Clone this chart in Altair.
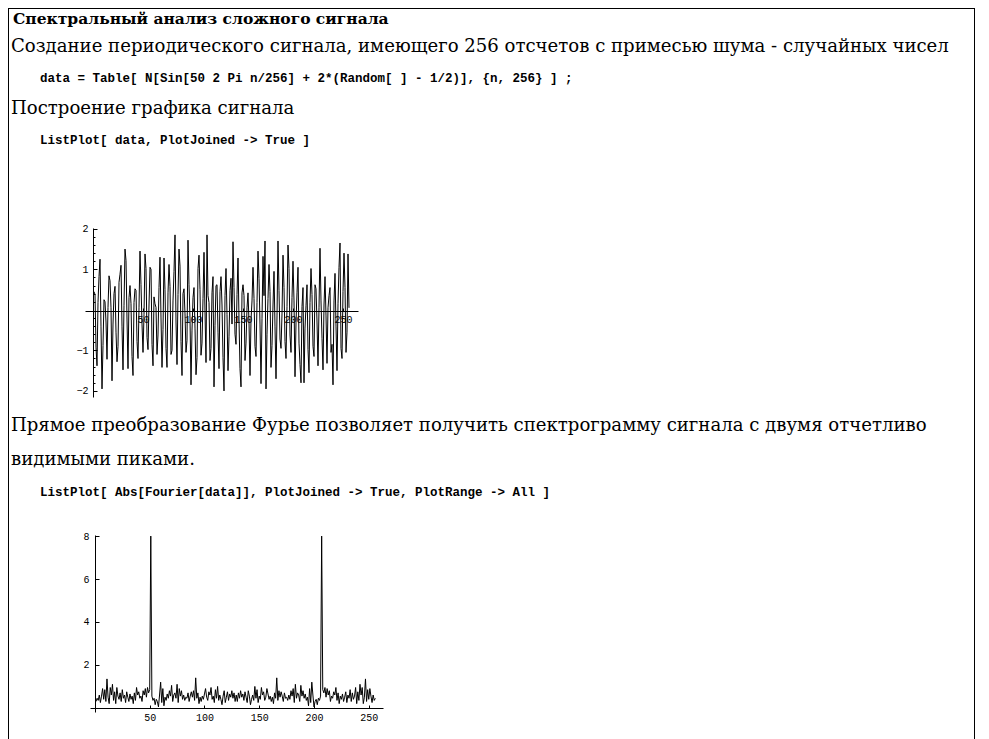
import altair as alt
import pandas as pd

# ---------------- data ----------------
signal = [
    0.45, 0.38, -0.92, -1.38, 0.18, 0.82, 1.25, -0.42, -1.95, -0.88, 0.25, 0.2, -0.3, -1.22, 0.06, 0.84,
    0.72, 0.05, -1.75, -0.35, 0.4, 0.58, -0.55, -1.28, -0.9, 0.68, 0.88, 1.1, -0.42, -1.48, 0.1, 1.5,
    1.22, -0.25, -1.45, 0.3, 0.6, 0.15, -1.15, -1.62, 0.18, 0.52, 0.48, -0.78, -1.2, 0.05, 1.45, 0.62,
    -0.35, -1.05, -0.12, 1.38, 1.02, -0.68, -0.98, 0.12, 1.05, 1.0, -0.85, -1.38, 0.32, 0.15, 0.06, -1.1,
    -0.62, 0.55, 1.3, -0.2, -1.42, -0.48, 1.28, 0.5, -0.95, -1.42, 0.42, 1.12, 0.58, -1.1, -1.0, 0.22,
    0.95, 1.85, -0.3, -1.35, 0.38, 1.5, 1.08, -0.78, -1.62, 0.4, 0.52, -0.1, -1.05, -0.75, 1.72, 0.62,
    -0.22, -1.85, -0.5, 0.3, 0.55, -0.45, -1.6, -1.18, 1.02, 1.35, 0.5, -1.12, -0.82, 0.28, 1.42, -0.05,
    -1.3, 1.85, 0.35, 0.18, -1.25, -0.95, 0.42, 0.82, -1.9, -0.38, 0.6, 0.62, -0.55, -1.45, 0.45, 0.82,
    0.12, -1.18, -2.0, 0.35, 1.02, -0.12, -1.5, -0.65, 0.48, 0.78, -0.35, 1.68, 0.55, -0.6, -0.85, 0.38,
    1.28, -0.25, -1.45, -1.9, 0.42, 0.62, 0.35, -1.25, -0.82, 0.05, 0.42, -0.3, -1.62, -0.25, 0.22, 1.05,
    0.28, -0.9, -1.15, 0.18, 1.45, 0.78, -0.35, -1.82, -0.22, 1.32, 0.35, 1.7, -1.95, -0.6, 0.28, 1.12,
    0.45, -1.42, -0.88, 0.12, 0.95, -0.42, -1.7, -0.15, 1.7, 0.48, -0.72, -0.95, -0.1, 1.35, 0.55, -0.78,
    -1.2, 0.08, 1.6, 1.02, -0.62, -1.05, 0.3, 1.2, 0.22, -1.65, -0.32, 0.42, 1.05, -0.82, -1.35, -1.8,
    0.08, 0.55, -1.8, -0.45, 0.1, 0.62, -0.98, -1.55, 0.18, 1.02, 0.38, -0.9, -1.15, 0.62, 0.52, -0.3,
    -1.38, 0.05, 1.52, 0.22, -0.7, -1.48, 0.12, 0.82, -0.15, -1.32, 0.05, 0.35, 0.55, -1.05, -0.85, -1.85,
    0.22, 0.9, -0.4, -1.5, 0.15, 1.05, 1.65, -0.95, -1.2, 0.45, 1.4, 0.55, -1.05, -0.55, 1.38, 0.05,
]

spectrum = [
    0.3,
    0.45, 0.35, 0.6, 0.25, 0.55, 0.9, 0.4, 0.85, 0.3, 1.35, 0.5, 0.2, 0.95, 0.6, 1.1,
    0.35, 0.75, 0.2, 0.95, 0.55, 0.4, 0.7, 0.3, 0.85, 0.45, 0.6, 0.25, 0.75, 0.5, 0.3, 0.65,
    0.4, 0.55, 0.2, 0.7, 0.35, 0.95, 0.6, 0.75, 0.45, 0.55, 0.3, 0.8, 0.6, 0.9, 0.5, 0.95, 0.7, 0.85,
    8.0,
    0.55, 0.35, 0.45, 0.15, 0.4, 0.3, 0.05, 0.6, 1.2, 0.25, 0.9, 0.1, 0.5,
    0.35, 0.65, 0.45, 0.8, 0.55, 1.05, 0.3, 0.6, 0.7, 0.45, 1.1, 0.25, 0.9, 0.55, 0.8, 0.4,
    0.6, 0.35, 0.5, 0.45, 0.7, 0.3, 0.55, 0.75, 0.5, 0.8, 0.35, 1.4, 0.45, 0.7, 0.2, 0.5,
    0.3, 0.55, 0.4, 0.65, 0.9, 0.5, 0.35, 0.75, 0.6, 0.95, 0.4, 0.55, 0.25, 0.85, 0.45, 1.0,
    0.35, 0.6, 0.4, 0.15, 0.55, 0.8, 0.25, 0.5, 0.75, 0.35, 0.65, 0.5, 0.8, 0.45, 0.7, 0.3, 0.6,
    0.3, 0.7, 0.45, 0.8, 0.5, 0.65, 0.35, 0.75, 0.5, 0.25, 0.8, 0.55, 0.15, 0.4, 0.6, 0.35,
    1.0, 0.45, 0.85, 0.25, 0.55, 0.4, 0.95, 0.6, 0.75, 0.35, 0.5, 0.9, 0.65, 0.4, 0.55, 0.3,
    0.5, 0.2, 0.7, 0.45, 1.4, 0.35, 0.8, 0.5, 0.75, 0.55, 0.3, 0.7, 0.45, 0.5, 0.35, 0.6,
    0.4, 0.8, 0.55, 0.9, 0.25, 1.1, 0.45, 0.7, 0.6, 0.3, 1.05, 0.55, 0.8, 0.45, 0.65, 0.35,
    0.5, 0.1, 0.9, 0.25, 1.2, 0.6, 0.05, 0.3, 0.4, 0.15, 0.45, 0.35, 0.55,
    8.0,
    0.85, 0.7, 0.95, 0.5, 0.9, 0.6, 0.8, 0.3, 0.55, 0.45, 0.75, 0.6, 0.95, 0.35, 0.7, 0.2, 0.55, 0.4,
    0.65, 0.3, 0.5, 0.75, 0.25, 0.6, 0.45, 0.85, 0.3, 0.7, 0.4, 0.55, 0.95, 0.2, 0.75, 0.35,
    1.1, 0.6, 0.95, 0.2, 0.5, 1.35, 0.3, 0.85, 0.4, 0.9, 0.55, 0.25, 0.6, 0.35, 0.45,
]

signal_ticks_x = [50, 100, 150, 200, 250]
signal_ticks_y = [-2, -1, 1, 2]
signal_minor_y = [-1.8, -1.6, -1.4, -1.2, -0.8, -0.6, -0.4, -0.2, 0.2, 0.4, 0.6, 0.8, 1.2, 1.4, 1.6, 1.8]
spectrum_ticks_x = [50, 100, 150, 200, 250]
spectrum_ticks_y = [2, 4, 6, 8]

title_text = "Спектральный анализ сложного сигнала"
para1 = "Создание периодического сигнала, имеющего 256 отсчетов с примесью шума - случайных чисел"
code1 = "data = Table[ N[Sin[50 2 Pi n/256] + 2*(Random[ ] - 1/2)], {n, 256} ] ;"
para2 = "Построение графика сигнала"
code2 = "ListPlot[ data, PlotJoined -> True ]"
para3a = "Прямое преобразование Фурье позволяет получить спектрограмму сигнала с двумя отчетливо"
para3b = "видимыми пиками."
code3 = "ListPlot[ Abs[Fourier[data]], PlotJoined -> True, PlotRange -> All ]"

# ---------------- chart ----------------
W, H = 973, 731
one = pd.DataFrame({"a": [0]})

BODY_FONT = "DejaVu Serif"
CODE_FONT = "Liberation Mono"
BODY_SIZE = 18.1


def text_line(s, x, y, size, font, weight="normal"):
    return alt.Chart(pd.DataFrame({"t": [s]})).mark_text(
        align="left", baseline="middle", font=font, fontSize=size,
        fontWeight=weight, color="black"
    ).encode(x=alt.value(x), y=alt.value(y), text="t:N")


def hrule(x, x2, y):
    return alt.Chart(one).mark_rule(color="black", strokeWidth=1).encode(
        x=alt.value(x), x2=alt.value(x2), y=alt.value(y))


def vrule(x, y, y2):
    return alt.Chart(one).mark_rule(color="black", strokeWidth=1).encode(
        x=alt.value(x), y=alt.value(y), y2=alt.value(y2))


layers = [
    hrule(0, 967, 0.5),
    vrule(0.5, 0, H),
    vrule(966.5, 0, H),
    text_line(title_text, 5, 11, 15.5, BODY_FONT, "bold"),
    text_line(para1, 3, 39, BODY_SIZE, BODY_FONT),
    text_line(code1, 32, 70, 12.5, CODE_FONT, "bold"),
    text_line(para2, 3, 101, BODY_SIZE, BODY_FONT),
    text_line(code2, 32, 132, 12.5, CODE_FONT, "bold"),
    text_line(para3a, 3, 418, BODY_SIZE, BODY_FONT),
    text_line(para3b, 3, 452, BODY_SIZE, BODY_FONT),
    text_line(code3, 32, 484, 12.5, CODE_FONT, "bold"),
]

axis_common = dict(
    grid=False, domainColor="black", tickColor="black", labelColor="black",
    labelFont=CODE_FONT, labelFontSize=10, domainWidth=1, tickWidth=1,
    title=None, zindex=0,
)

# ---- signal plot ----
df1 = pd.DataFrame({"n": list(range(1, len(signal) + 1)), "v": signal})
sx1 = alt.Scale(domain=[-8, 265], range=[77, 350], nice=False, zero=False)
sy1 = alt.Scale(domain=[-2.15, 2.02], range=[389, 220], nice=False, zero=False)
X0_1 = 85   # pixel of n=0
Y0_1 = 303  # pixel of v=0

line1 = alt.Chart(df1).mark_line(color="black", strokeWidth=1).encode(
    x=alt.X("n:Q", scale=sx1, axis=alt.Axis(
        orient="top", offset=-Y0_1, values=signal_ticks_x, tickSize=3,
        labelBaseline="top", labelPadding=-6, labelAlign="center", **axis_common)),
    y=alt.Y("v:Q", scale=sy1, axis=alt.Axis(
        orient="right", offset=X0_1 - W, values=signal_ticks_y, tickSize=4,
        labelAlign="right", labelBaseline="middle", labelPadding=-9, **axis_common)),
)
minor1 = alt.Chart(pd.DataFrame({"v": [0.0]})).mark_point(opacity=0).encode(
    y=alt.Y("v:Q", scale=sy1, axis=alt.Axis(
        orient="right", offset=X0_1 - W, values=signal_minor_y, tickSize=2,
        labels=False, domain=False, grid=False, tickColor="black", title=None)),
)

# ---- spectrum plot ----
df2 = pd.DataFrame({"k": list(range(1, len(spectrum) + 1)), "a": spectrum})
sx2 = alt.Scale(domain=[-4.5, 263], range=[82, 375], nice=False, zero=False)
sy2 = alt.Scale(domain=[-0.19, 8.05], range=[704, 527], nice=False, zero=False)
X0_2 = 87
Y0_2 = 700

line2 = alt.Chart(df2).mark_line(color="black", strokeWidth=1).encode(
    x=alt.X("k:Q", scale=sx2, axis=alt.Axis(
        orient="top", offset=-Y0_2, values=spectrum_ticks_x, tickSize=3,
        labelBaseline="top", labelPadding=-7, labelAlign="center", **axis_common)),
    y=alt.Y("a:Q", scale=sy2, axis=alt.Axis(
        orient="right", offset=X0_2 - W, values=spectrum_ticks_y, tickSize=4,
        labelAlign="right", labelBaseline="middle", labelPadding=-10, **axis_common)),
)

layers += [line1, minor1, line2]

chart = alt.layer(*layers).resolve_scale(x="independent", y="independent").properties(
    width=W, height=H, autosize=alt.AutoSizeParams(type="none"), padding=0,
    background="white",
).configure_view(stroke="transparent")

chart.save("out.html", embed_options={"renderer": "svg", "actions": False})
